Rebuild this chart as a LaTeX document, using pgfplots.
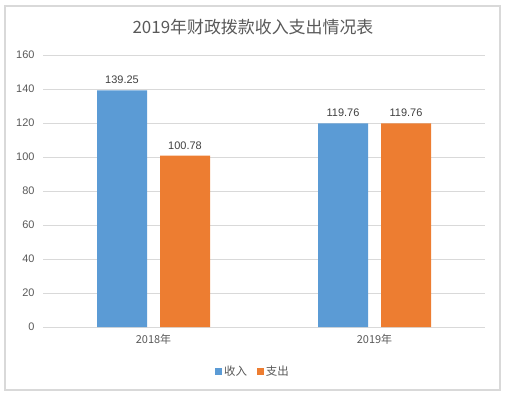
\documentclass[border=0pt]{standalone}
\usepackage{fontspec}
\setmainfont{Liberation Sans}
\newfontfamily\cjk{Noto Sans CJK SC}
\usepackage{pgfplots}
\pgfplotsset{compat=1.18}
\definecolor{cblue}{HTML}{5B9BD5}
\definecolor{corange}{HTML}{ED7D31}
\definecolor{gridc}{HTML}{D9D9D9}
\definecolor{txt}{HTML}{595959}
\definecolor{lbl}{HTML}{404040}
\begin{document}
\begin{tikzpicture}[x=1bp,y=1bp]
\useasboundingbox (0,0) rectangle (506,396);
\draw[gridc, line width=1.2bp] (5,6) rectangle (500,390);
\node[txt, font=\cjk\fontsize{17}{20}\selectfont] at (253,369) {2019年财政拨款收入支出情况表};
\begin{axis}[
  at={(43bp,69bp)}, anchor=south west,
  scale only axis, width=442bp, height=272bp,
  xmin=-0.5, xmax=1.5, ymin=0, ymax=160,
  ytick={0,20,...,160},
  xtick={0,1}, xticklabels={{\cjk 2018年},{\cjk 2019年}},
  ybar, bar width=50bp,
  axis line style={draw=none},
  axis x line*=bottom,
  x axis line style={draw=gridc, line width=1bp},
  ymajorgrids, grid style={gridc, line width=0.8bp},
  major tick length=0pt,
  tick label style={txt, font=\fontsize{11}{13}\selectfont},
  /pgf/number format/assume math mode=true,
  yticklabel style={xshift=-5bp},
  xticklabel style={yshift=-4bp},
  nodes near coords,
  nodes near coords style={lbl, yshift=3bp, font=\fontsize{11}{13}\selectfont},
  point meta=explicit symbolic,
  legend style={at={(0.475,-0.162)}, anchor=center, legend columns=2, draw=none, fill=none,
    font=\cjk\fontsize{11.5}{13}\selectfont, text=txt,
    /tikz/every even column/.append style={column sep=8bp}},
  legend image code/.code={\fill[#1] (0bp,-3.5bp) rectangle (7bp,3.5bp);},
  clip=false,
]
\addplot[fill=cblue, draw=none, bar shift=-31.5bp] coordinates {(0,139.25)[139.25] (1,119.76)[119.76]};
\addplot[fill=corange, draw=none, bar shift=31.5bp] coordinates {(0,100.78)[100.78] (1,119.76)[119.76]};
\legend{收入,支出}
\end{axis}
\end{tikzpicture}
\end{document}
